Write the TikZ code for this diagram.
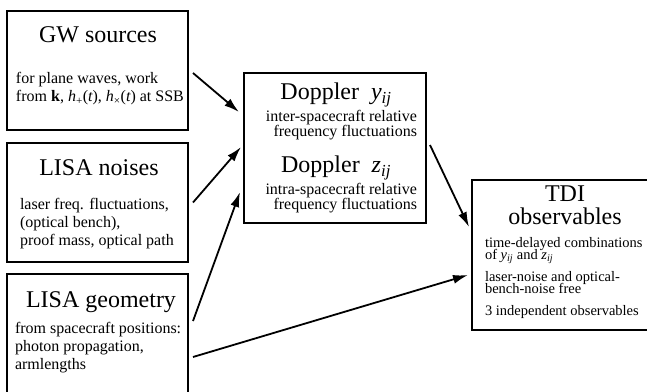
\documentclass[tikz,border=0pt]{standalone}
\usepackage{fontspec}
\setmainfont{Liberation Serif}
\usetikzlibrary{arrows.meta}
\def\tightlines{\lineskiplimit=-100pt\relax}

\begin{document}
\begin{tikzpicture}[x=1pt,y=1pt,
		%Option for nice arrows%
		>={Latex[length=15pt,width=9pt]},%
		inner sep=0pt,%
		outer sep=0pt,%
		box/.style={draw,line width=2pt,rectangle},%
		title text/.style={anchor=base,align=center,
			font=\fontsize{24}{23}\selectfont},%
		body text/.style={anchor=base west,align=left,
			font=\fontsize{16}{18}\selectfont\tightlines},%
		flow/.style={->,line width=1.8pt}%
		]
		%% some definitions
		\def\yij{{\itshape y}\textsubscript{\itshape ij}}
		\def\zij{{\itshape z}\textsubscript{\itshape ij}}
		% multi-line texts sit on the baseline of their last line
		%
		\useasboundingbox (0,0) rectangle (647,391);
		\clip (0,0) rectangle (647,391);
		%
		%% boxes
		\node[box,minimum width=181,minimum height=119] (gw) at (97.5,320.5) {};
		\node[box,minimum width=181,minimum height=119] (noise) at (97.5,188.5) {};
		\node[box,minimum width=181,minimum height=157] (geo) at (97.5,38.5) {};
		\node[box,minimum width=182,minimum height=150] (dop) at (335,243) {};
		\node[box,minimum width=200,minimum height=150] (tdi) at (572,136) {};
		%
		%% texts of the inputs
		\node[title text] (gwtitle) at (98,348) {GW sources};
		\node[body text] (gwbody) at (16,289) {for plane waves, work\\
			from \textbf{k}, {\itshape h}\textsubscript{+}({\itshape t}), {\itshape h}\textsubscript{×}({\itshape t}) at SSB};
		\node[title text] (noisetitle) at (99,215) {LISA noises};
		\node[body text] (noisebody) at (20,146) {laser freq. fluctuations,\\
			(optical bench),\\ proof mass, optical path};
		\node[title text] (geotitle) at (101,84) {LISA geometry};
		\node[body text] (geobody) at (15,22) {from spacecraft positions:\\
			photon propagation,\\ armlengths};
		%
		%% texts of the Doppler box
		\node[title text] (doptitley) at (336,291) {Doppler~~\yij};
		\node[body text,anchor=base east,align=right,
			font=\fontsize{16}{14.5}\selectfont\tightlines]
			(dopbodyy) at (417,254.5) {inter-spacecraft relative\\ frequency fluctuations};
		\node[title text] (doptitlez) at (336,218) {Doppler~~\zij};
		\node[body text,anchor=base east,align=right,
			font=\fontsize{16}{14.5}\selectfont\tightlines]
			(dopbodyz) at (417,181.5) {intra-spacecraft relative\\ frequency fluctuations};
		%
		%% texts of the TDI box
		\node[title text] (tditle) at (565,166) {TDI\\ observables};
		\node[body text,font=\fontsize{14.5}{12}\selectfont\tightlines]
			(tdibody) at (485,76)
			{time-delayed combinations\\ of \yij{} and~\zij\\[10pt]
			laser-noise and optical-\\ bench-noise free\\[10pt]
			3 independent observables};
		%
		%% connectors
		\draw[flow] ([xshift=5,yshift=-2.5]gw.east) -- ([xshift=-5,yshift=36]dop.west);
		\draw[flow] ([xshift=5]noise.east) -- ([xshift=-3,yshift=1]dop.west);
		\draw[flow] ([xshift=5,yshift=31.5]geo.east) -- ([xshift=-4,yshift=-44]dop.west);
		\draw[flow] ([xshift=5,yshift=-4.5]geo.east) -- ([xshift=-4,yshift=-20]tdi.west);
		\draw[flow] ([xshift=4,yshift=3]dop.east) -- ([xshift=-3,yshift=28]tdi.west);
	\end{tikzpicture}
\end{document}
